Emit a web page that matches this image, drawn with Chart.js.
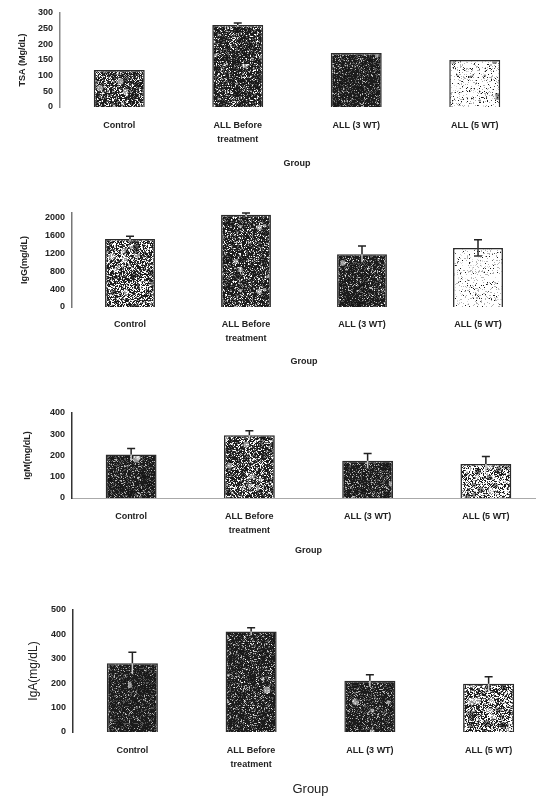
<!DOCTYPE html>
<html>
<head>
<meta charset="utf-8">
<script src="https://cdn.jsdelivr.net/npm/chart.js@4.4.1/dist/chart.umd.min.js"></script>
<style>
  html, body { margin: 0; padding: 0; background: #fff; width: 536px; height: 800px; overflow: hidden; }
  .panel { position: absolute; left: 0; }
</style>
</head>
<body>
<canvas id="tsa" class="panel"></canvas>
<canvas id="igg" class="panel"></canvas>
<canvas id="igm" class="panel"></canvas>
<canvas id="iga" class="panel"></canvas>
<script>
// ---- data ----
const groups = ["Control", ["ALL Before", "treatment"], "ALL (3 WT)", "ALL (5 WT)"];

const tsaValues = [118, 262, 172, 150];
const tsaErrors = [0, 6, 0, 0];
const tsaTicks = [0, 50, 100, 150, 200, 250, 300];

const iggValues = [1520, 2060, 1180, 1320];
const iggErrors = [60, 40, 180, 180];
const iggTicks = [0, 400, 800, 1200, 1600, 2000];

const igmValues = [205, 295, 175, 160];
const igmErrors = [28, 22, 35, 35];
const igmTicks = [0, 100, 200, 300, 400];

const igaValues = [282, 412, 210, 198];
const igaErrors = [45, 15, 25, 28];
const igaTicks = [0, 100, 200, 300, 400, 500];

// ---- speckle fill, like the scanned print ----
function speckle(darkness, seed) {
  const n = 64;
  const c = document.createElement("canvas");
  c.width = n; c.height = n;
  const g = c.getContext("2d");
  g.fillStyle = "#fff";
  g.fillRect(0, 0, n, n);
  let s = seed;
  const rnd = () => { s = (s * 16807) % 2147483647; return s / 2147483647; };
  for (let y = 0; y < n; y++) {
    for (let x = 0; x < n; x++) {
      const r = rnd();
      if (r < darkness * 0.75) {
        g.fillStyle = "#1c1c1c";
        g.fillRect(x, y, 1, 1);
      } else if (r < darkness) {
        g.fillStyle = "#555";
        g.fillRect(x, y, 1, 1);
      } else if (r < darkness + 0.12) {
        g.fillStyle = "#b5b5b5";
        g.fillRect(x, y, 1, 1);
      }
    }
  }
  // soft blots
  for (let k = 0; k < 40; k++) {
    const r = rnd();
    g.fillStyle = r < darkness ? "rgba(20,20,20,0.5)" : "rgba(255,255,255,0.55)";
    g.beginPath();
    g.arc(rnd() * n, rnd() * n, 1 + rnd() * 2.5, 0, Math.PI * 2);
    g.fill();
  }
  return g.createPattern(c, "repeat");
}

// error bars drawn through the y scale
const errorBars = {
  id: "errorBars",
  afterDatasetsDraw(chart) {
    const ctx = chart.ctx;
    const y = chart.scales.y;
    const ds = chart.data.datasets[0];
    const errs = ds.errors || [];
    chart.getDatasetMeta(0).data.forEach((bar, i) => {
      const e = errs[i];
      if (!e) return;
      const v = ds.data[i];
      const top = y.getPixelForValue(v + e);
      const low = y.getPixelForValue(v - e);
      const light = ds.dark[i] < 0.3;
      ctx.save();
      ctx.lineWidth = 1.5;
      ctx.strokeStyle = light ? "#333" : "#ccc";
      ctx.beginPath();
      ctx.moveTo(bar.x, bar.y);
      ctx.lineTo(bar.x, low);
      if (light) {
        ctx.moveTo(bar.x - 4, low);
        ctx.lineTo(bar.x + 4, low);
      }
      ctx.stroke();
      ctx.strokeStyle = "#222";
      ctx.beginPath();
      ctx.moveTo(bar.x, bar.y);
      ctx.lineTo(bar.x, top);
      ctx.moveTo(bar.x - 4, top);
      ctx.lineTo(bar.x + 4, top);
      ctx.stroke();
      ctx.restore();
    });
  }
};

function panel(id, o) {
  const cv = document.getElementById(id);
  cv.width = o.width;
  cv.height = o.height;
  cv.style.top = o.top + "px";
  const ticks = o.ticks;
  new Chart(cv, {
    type: "bar",
    data: {
      labels: groups,
      datasets: [{
        data: o.values,
        errors: o.errors,
        dark: o.dark,
        backgroundColor: o.dark.map((d, i) => speckle(d, 97 + i * 131 + o.top)),
        borderColor: "#2a2a2a",
        borderWidth: 1.5,
        barPercentage: 0.43,
        categoryPercentage: 1
      }]
    },
    plugins: [errorBars],
    options: {
      responsive: false,
      animation: false,
      events: [],
      layout: { padding: { top: o.padTop, left: 0, right: 0, bottom: 0 } },
      plugins: { legend: { display: false }, tooltip: { enabled: false } },
      scales: {
        x: {
          grid: { display: false, drawTicks: false },
          border: { display: o.xBorder, color: "#aaa", dash: [4, 4] },
          ticks: {
            color: "#222",
            padding: o.labelPad,
            maxRotation: 0,
            font: { family: "Liberation Sans", size: 9, weight: "bold", lineHeight: 1.6 }
          },
          title: {
            display: true,
            text: "Group",
            color: "#222",
            padding: { top: 0, bottom: o.groupPad },
            font: { family: "Liberation Sans", size: o.groupSize, weight: o.groupWeight }
          },
          afterFit: s => { s.height = o.xHeight; }
        },
        y: {
          min: ticks[0],
          max: o.max,
          grid: { display: false, drawTicks: false },
          border: { display: true, color: o.axisColor, width: 1.5, dash: o.axisDash },
          afterBuildTicks: s => { s.ticks = ticks.map(v => ({ value: v })); },
          ticks: {
            color: "#222",
            padding: 7,
            callback: v => String(v),
            font: { family: "Liberation Sans", size: 9, weight: "bold" }
          },
          title: {
            display: true,
            text: o.title,
            color: "#222",
            padding: { top: o.titlePad, bottom: 0 },
            font: { family: "Liberation Sans", size: o.titleSize, weight: o.titleWeight }
          },
          afterFit: s => { s.width = o.yWidth; }
        }
      }
    }
  });
}

panel("tsa", {
  top: 0, width: 534, height: 178, padTop: 13, xHeight: 71, yWidth: 60,
  values: tsaValues, errors: tsaErrors, ticks: tsaTicks, max: 300,
  dark: [0.72, 0.8, 0.9, 0.08],
  title: "TSA (Mg/dL)", titleSize: 9, titleWeight: "bold", titlePad: 17,
  labelPad: 11, groupPad: 9, groupSize: 9, groupWeight: "bold",
  xBorder: false, axisColor: "#888", axisDash: [2, 2]
});

panel("igg", {
  top: 190, width: 536, height: 185, padTop: 23, xHeight: 68, yWidth: 72,
  values: iggValues, errors: iggErrors, ticks: iggTicks, max: 2100,
  dark: [0.6, 0.8, 0.86, 0.04],
  title: "IgG(mg/dL)", titleSize: 9, titleWeight: "bold", titlePad: 19,
  labelPad: 10, groupPad: 8, groupSize: 9, groupWeight: "bold",
  xBorder: false, axisColor: "#777", axisDash: [3, 3]
});

panel("igm", {
  top: 390, width: 545, height: 175, padTop: 23, xHeight: 67, yWidth: 72,
  values: igmValues, errors: igmErrors, ticks: igmTicks, max: 400,
  dark: [0.88, 0.7, 0.88, 0.4],
  title: "IgM(mg/dL)", titleSize: 9, titleWeight: "bold", titlePad: 22,
  labelPad: 11, groupPad: 9, groupSize: 9, groupWeight: "bold",
  xBorder: true, axisColor: "#333", axisDash: []
});

panel("iga", {
  top: 580, width: 548, height: 220, padTop: 30, xHeight: 68, yWidth: 73,
  values: igaValues, errors: igaErrors, ticks: igaTicks, max: 500,
  dark: [0.92, 0.86, 0.88, 0.52],
  title: "IgA(mg/dL)", titleSize: 12, titleWeight: "normal", titlePad: 26,
  labelPad: 11, groupPad: 3, groupSize: 13, groupWeight: "normal",
  xBorder: false, axisColor: "#333", axisDash: []
});
</script>
</body>
</html>
